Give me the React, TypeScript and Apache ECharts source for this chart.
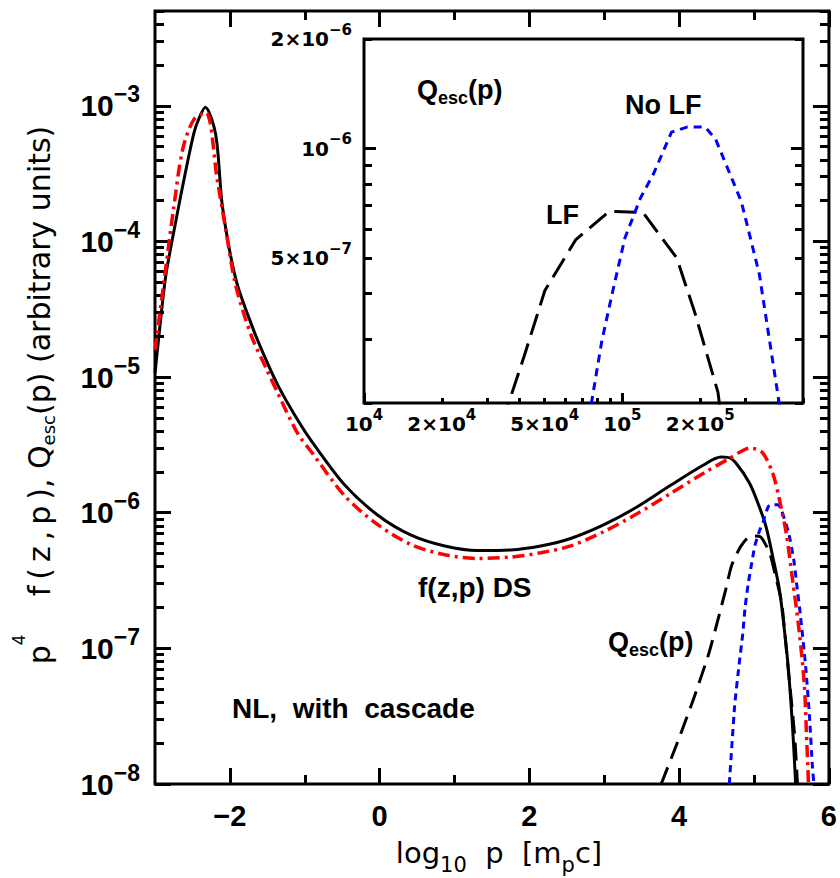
import React, { useEffect, useRef } from "react";
import * as echarts from "echarts";

// ---- Data (x = log10 p [m_p c], y = log10 of the plotted quantity) ----
// p^4 f(z,p) downstream, with Lorentz-force feedback (black solid)
const fLfLogP = [-3.0, -2.9, -2.85, -2.76, -2.63, -2.48, -2.41, -2.33, -2.19, -2.1, -1.92, -1.7, -1.52, -1.35, -1.08, -0.9, -0.46, -0.02, 0.42, 0.87, 1.31, 1.75, 2.15, 2.55, 2.99, 3.43, 3.88, 4.32, 4.56, 4.65, 4.76, 4.94, 5.07, 5.16, 5.25, 5.34, 5.4, 5.45, 5.49, 5.525, 5.555];
const fLfLogF = [-4.97, -4.45, -4.23, -3.96, -3.59, -3.2, -3.09, -3.01, -3.21, -3.74, -4.28, -4.63, -4.87, -5.07, -5.33, -5.48, -5.8, -6.02, -6.165, -6.245, -6.278, -6.274, -6.245, -6.19, -6.09, -5.96, -5.8, -5.65, -5.59, -5.592, -5.635, -5.783, -5.956, -6.103, -6.325, -6.571, -6.84, -7.1, -7.38, -7.68, -8.0];

// p^4 f(z,p) downstream, no Lorentz-force feedback (red dash-dot)
const fNoLfLogP = [-3.0, -2.9, -2.83, -2.76, -2.63, -2.48, -2.32, -2.17, -2.05, -1.92, -1.71, -1.52, -1.35, -1.1, -0.9, -0.46, -0.02, 0.42, 0.87, 1.31, 1.75, 2.15, 2.55, 2.99, 3.43, 3.88, 4.32, 4.67, 4.82, 4.94, 5.02, 5.12, 5.25, 5.34, 5.43, 5.515, 5.6, 5.67, 5.7, 5.727];
const fNoLfLogF = [-4.8, -4.38, -4.08, -3.79, -3.32, -3.1, -3.05, -3.54, -3.93, -4.33, -4.7, -4.93, -5.13, -5.41, -5.56, -5.88, -6.09, -6.235, -6.31, -6.337, -6.327, -6.295, -6.245, -6.14, -6.01, -5.86, -5.71, -5.6, -5.55, -5.524, -5.53, -5.561, -5.709, -5.906, -6.152, -6.497, -6.86, -7.26, -7.63, -8.0];

// Q_esc(p), LF (black dashed)
const qLfLogP = [3.76, 4.0, 4.2, 4.4, 4.55, 4.62, 4.7, 4.82, 4.95, 5.08, 5.21, 5.28, 5.37, 5.45, 5.54, 5.58];
const qLfLogQ = [-8.0, -7.66, -7.36, -7.03, -6.72, -6.57, -6.39, -6.25, -6.172, -6.176, -6.3, -6.45, -6.67, -7.12, -7.63, -8.0];

// Q_esc(p), No LF (blue dotted)
const qNoLfLogP = [4.67, 4.74, 4.8, 4.85, 4.88, 4.92, 4.96, 5.01, 5.07, 5.12, 5.19, 5.25, 5.32, 5.36, 5.46, 5.53, 5.57, 5.62, 5.69, 5.74, 5.78, 5.8];
const qNoLfLogQ = [-8.0, -7.43, -7.12, -6.89, -6.7, -6.53, -6.4, -6.245, -6.136, -6.07, -5.955, -5.941, -5.941, -5.973, -6.145, -6.345, -6.53, -6.76, -7.14, -7.5, -7.88, -8.0];

// ---- Tick labels ----
const mainXLabels = [-2, 0, 2, 4, 6];
const mainXMinor = [-1, 1, 3, 5];
const mainYExponents = [-8, -7, -6, -5, -4, -3];
const insetXLabelValues = [1e4, 2e4, 5e4, 1e5, 2e5];
const insetXMajor = [1e4, 1e5];
const insetYLabelValues = [2e-6, 1e-6, 5e-7];
const insetYMajor = [1e-6];

const lg = Math.log10;
const MINUS = "\u2212";
const SP = "\u00a0";
const TH = "\u2009";

const mainXRange = { min: -3, max: 6 };
const mainYRange = { min: -8, max: lg(5e-3) };
const insXRange = { min: lg(1e4), max: lg(5e5) };
const insYRange = { min: lg(2e-7), max: lg(2e-6) };

const pairs = (xs: number[], ys: number[]) => xs.map((x, i) => [x, ys[i]]);

function logMinor(nFrom: number, nTo: number, lo: number, hi: number): number[] {
  const out: number[] = [];
  for (let n = nFrom; n <= nTo; n++) {
    for (let k = 2; k <= 9; k++) {
      const v = n + lg(k);
      if (v >= lo - 1e-9 && v <= hi + 1e-9) out.push(v);
    }
  }
  return out;
}

function powLabel(v: number): string {
  const e = Math.floor(v + 1e-6);
  const m = Math.round(Math.pow(10, v - e));
  const sup = e < 0 ? MINUS + String(-e) : String(e);
  return m === 1 ? `{b|10}{s|${sup}}` : `{b|${m}\u00d710}{s|${sup}}`;
}

function tickAxis(
  gridIndex: number,
  position: string,
  range: { min: number; max: number },
  values: number[],
  length: number,
  label?: any
) {
  return {
    type: "value",
    gridIndex,
    position,
    min: range.min,
    max: range.max,
    axisLine: { show: false, onZero: false },
    splitLine: { show: false },
    axisTick: {
      show: true,
      inside: true,
      length,
      customValues: values,
      lineStyle: { color: "#000", width: 3 },
    },
    axisLabel: label
      ? { show: true, showMinLabel: true, showMaxLabel: true, color: "#000", ...label }
      : { show: false },
  };
}

const mainYMinor = logMinor(-8, -3, mainYRange.min, mainYRange.max);
const insXMinor = logMinor(4, 5, insXRange.min, insXRange.max);
const insYMinor = logMinor(-7, -6, insYRange.min, insYRange.max).filter(
  (v) => Math.abs(v - lg(1e-6)) > 1e-6
);

const mainYLabel = {
  customValues: mainYExponents,
  margin: 15,
  formatter: (v: number) => `{b|10}{s|${MINUS}${Math.round(-v)}}`,
  rich: {
    b: { fontFamily: "Liberation Sans", fontWeight: "bold", fontSize: 30, lineHeight: 46, color: "#000" },
    s: { fontFamily: "Liberation Sans", fontWeight: "bold", fontSize: 23, lineHeight: 23, verticalAlign: "top", color: "#000" },
  },
};

const mainXLabel = {
  customValues: mainXLabels,
  margin: 17,
  fontFamily: "Liberation Sans",
  fontWeight: "bold",
  fontSize: 29,
  formatter: (v: number) => (v < 0 ? MINUS + String(-v) : String(v)),
};

const insetRich = {
  b: { fontFamily: "DejaVu Sans", fontWeight: "bold", fontSize: 20, lineHeight: 34, color: "#000" },
  s: { fontFamily: "DejaVu Sans", fontWeight: "bold", fontSize: 15, lineHeight: 15, verticalAlign: "top", color: "#000" },
};

const insetXLabel = {
  customValues: insetXLabelValues.map(lg),
  margin: 4,
  formatter: powLabel,
  rich: insetRich,
};

const insetYLabel = {
  customValues: insetYLabelValues.map(lg),
  margin: 12,
  formatter: powLabel,
  rich: insetRich,
};

const boldRich = (size: number) => ({
  b: { fontFamily: "Liberation Sans", fontWeight: "bold", fontSize: size, lineHeight: 34, fill: "#000" },
  sub: { fontFamily: "Liberation Sans", fontWeight: "bold", fontSize: 18, lineHeight: 18, verticalAlign: "bottom", fill: "#000" },
});

const plainLabel = (x: number, y: number, text: string, size = 28) => ({
  type: "text",
  x,
  y,
  style: {
    text,
    fontFamily: "Liberation Sans",
    fontWeight: "bold",
    fontSize: size,
    fill: "#000",
    textAlign: "left",
    textVerticalAlign: "middle",
  },
});

const qLabel = (x: number, y: number) => ({
  type: "text",
  x,
  y,
  style: {
    text: "{b|Q}{sub|esc}{b|(p)}",
    rich: boldRich(27),
    textAlign: "left",
    textVerticalAlign: "middle",
  },
});

const yTitle =
  "{b|p}{sup|4}{b|" + SP + SP + SP + SP +
  "f" + TH + "(" + TH + "z" + TH + "," + TH + "p" + TH + ")," + SP +
  "Q}{sub|esc}{b|(p)" + SP + "(arbitrary" + SP + "units)}";

const option: any = {
  animation: false,
  backgroundColor: "#fff",
  grid: [
    { left: 155, top: 11, width: 679, height: 773, show: true, borderColor: "#000", borderWidth: 3, backgroundColor: "transparent" },
    { left: 364, top: 39, width: 439, height: 364, show: true, borderColor: "#000", borderWidth: 3, backgroundColor: "#fff" },
  ],
  xAxis: [
    tickAxis(0, "bottom", mainXRange, mainXLabels, 16, mainXLabel),
    tickAxis(0, "bottom", mainXRange, mainXMinor, 9),
    tickAxis(0, "top", mainXRange, mainXLabels, 16),
    tickAxis(0, "top", mainXRange, mainXMinor, 9),
    tickAxis(1, "bottom", insXRange, insetXMajor.map(lg), 10, insetXLabel),
    tickAxis(1, "bottom", insXRange, insXMinor, 5),
  ],
  yAxis: [
    tickAxis(0, "left", mainYRange, mainYExponents, 16, mainYLabel),
    tickAxis(0, "left", mainYRange, mainYMinor, 9),
    tickAxis(0, "right", mainYRange, mainYExponents, 16),
    tickAxis(0, "right", mainYRange, mainYMinor, 9),
    tickAxis(1, "left", insYRange, insetYMajor.map(lg), 12, insetYLabel),
    tickAxis(1, "left", insYRange, insYMinor, 8),
    tickAxis(1, "right", insYRange, insetYMajor.map(lg), 12),
    tickAxis(1, "right", insYRange, insYMinor, 8),
  ],
  series: [
    {
      name: "f LF",
      type: "line",
      xAxisIndex: 0,
      yAxisIndex: 0,
      data: pairs(fLfLogP, fLfLogF),
      symbol: "none",
      smooth: 0.3,
      lineStyle: { color: "#000", width: 3 },
      z: 3,
    },
    {
      name: "f No LF",
      type: "line",
      xAxisIndex: 0,
      yAxisIndex: 0,
      data: pairs(fNoLfLogP, fNoLfLogF),
      symbol: "none",
      smooth: 0.3,
      lineStyle: { color: "#ff0000", width: 3.5, type: [12, 5, 3, 5] },
      z: 4,
    },
    {
      name: "Q LF",
      type: "line",
      xAxisIndex: 0,
      yAxisIndex: 0,
      data: pairs(qLfLogP, qLfLogQ),
      symbol: "none",
      smooth: 0.2,
      lineStyle: { color: "#000", width: 3, type: [18, 9] },
      z: 3,
    },
    {
      name: "Q No LF",
      type: "line",
      xAxisIndex: 0,
      yAxisIndex: 0,
      data: pairs(qNoLfLogP, qNoLfLogQ),
      symbol: "none",
      smooth: 0.2,
      lineStyle: { color: "#0000ff", width: 3, type: [7, 5] },
      z: 3,
    },
    {
      name: "Q LF inset",
      type: "line",
      xAxisIndex: 4,
      yAxisIndex: 4,
      data: pairs(qLfLogP, qLfLogQ),
      symbol: "none",
      lineStyle: { color: "#000", width: 3, type: [22, 9] },
      z: 3,
    },
    {
      name: "Q No LF inset",
      type: "line",
      xAxisIndex: 4,
      yAxisIndex: 4,
      data: pairs(qNoLfLogP, qNoLfLogQ),
      symbol: "none",
      lineStyle: { color: "#0000ff", width: 3, type: [8, 6] },
      z: 3,
    },
  ],
  graphic: [
    plainLabel(418, 587, "f(z,p)" + SP + "DS"),
    qLabel(608, 642),
    plainLabel(232, 708, "NL," + SP + SP + "with" + SP + SP + "cascade"),
    qLabel(417, 90),
    plainLabel(625, 105, "No" + SP + "LF", 27),
    plainLabel(546, 215, "LF", 27),
    {
      type: "text",
      x: 39.5,
      y: 395,
      rotation: Math.PI / 2,
      style: {
        text: yTitle,
        textAlign: "center",
        textVerticalAlign: "middle",
        rich: {
          b: { fontFamily: "DejaVu Sans", fontSize: 30, lineHeight: 58, fill: "#000" },
          sup: { fontFamily: "DejaVu Sans", fontSize: 17, lineHeight: 17, verticalAlign: "top", fill: "#000" },
          sub: { fontFamily: "DejaVu Sans", fontSize: 18, lineHeight: 18, verticalAlign: "bottom", padding: [0, 0, 11, 0], fill: "#000" },
        },
      },
    },
    {
      type: "text",
      x: 499,
      y: 853,
      style: {
        text: "{b|log}{sub|10}{b|" + SP + SP + "p" + SP + SP + "[m}{sub|p}{b|c]}",
        textAlign: "center",
        textVerticalAlign: "middle",
        rich: {
          b: { fontFamily: "DejaVu Sans", fontSize: 29, lineHeight: 44, fill: "#000" },
          sub: { fontFamily: "DejaVu Sans", fontSize: 21, lineHeight: 21, verticalAlign: "bottom", fill: "#000" },
        },
      },
    },
  ],
};

export default function App() {
  const ref = useRef<HTMLDivElement>(null);
  useEffect(() => {
    if (!ref.current) return;
    const chart = echarts.init(ref.current, null, { renderer: "svg", width: 840, height: 878 });
    chart.setOption(option);
    return () => chart.dispose();
  }, []);
  return (
    <div
      ref={ref}
      style={{ position: "fixed", left: 0, top: 0, width: 840, height: 878, background: "#fff" }}
    />
  );
}
